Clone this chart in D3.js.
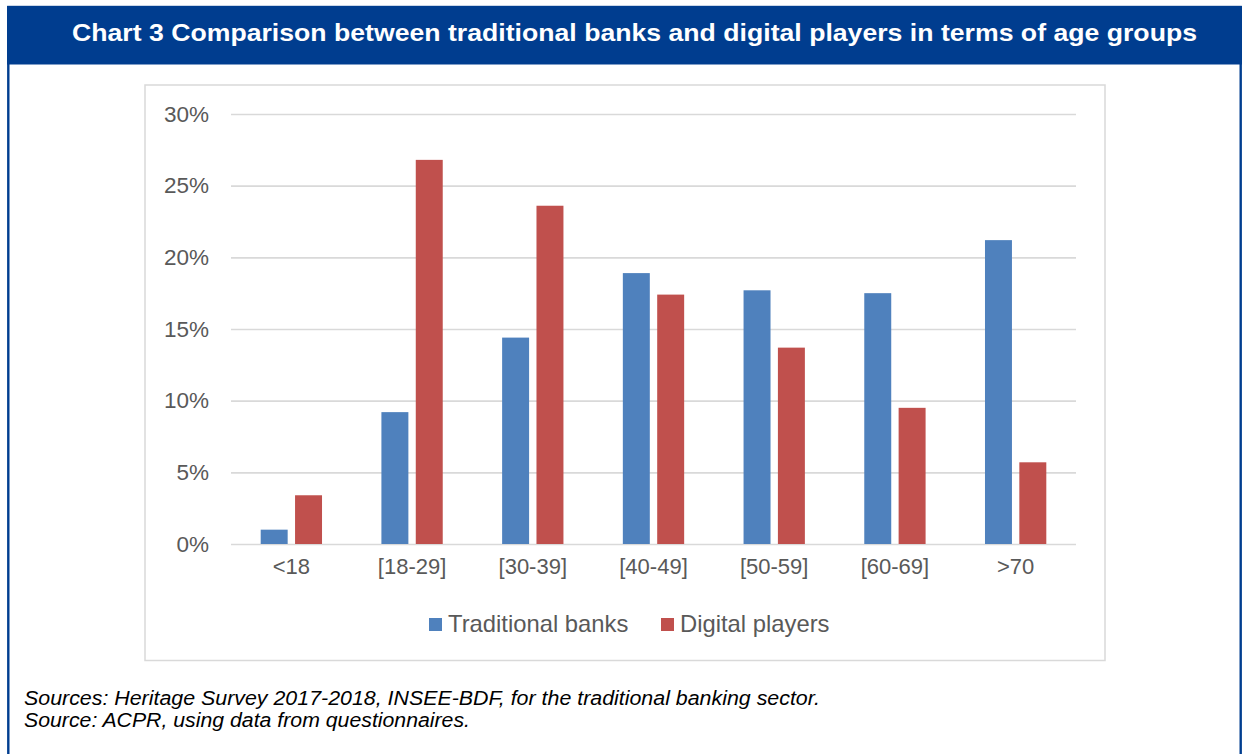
<!DOCTYPE html>
<html>
<head>
<meta charset="utf-8">
<script src="https://cdn.jsdelivr.net/npm/d3@7"></script>
<style>
  html, body { margin: 0; padding: 0; background: #fff; }
  svg { display: block; font-family: "Liberation Sans", Arial, sans-serif; }
</style>
</head>
<body>
<svg id="chart" width="1246" height="754"></svg>
<script>
// Age groups and share of customers in each group
const categories = ["<18", "[18-29]", "[30-39]", "[40-49]", "[50-59]", "[60-69]", ">70"];
const traditionalBanks = [0.010, 0.092, 0.144, 0.189, 0.177, 0.175, 0.212];
const digitalPlayers   = [0.034, 0.268, 0.236, 0.174, 0.137, 0.095, 0.057];
const seriesNames = ["Traditional banks", "Digital players"];
const seriesColors = ["#4F81BD", "#C0504D"];
const yTicks = [0, 0.05, 0.10, 0.15, 0.20, 0.25, 0.30];

const titleText = "Chart 3 Comparison between traditional banks and digital players in terms of age groups";
const sourceLines = [
  "Sources: Heritage Survey 2017-2018, INSEE-BDF, for the traditional banking sector.",
  "Source: ACPR, using data from questionnaires."
];

const svg = d3.select("#chart");
const navy = "#003d8f";
const textGrey = "#595959";
const gridGrey = "#d9d9d9";

// Outer frame and title band
svg.append("rect")
  .attr("x", 8.3).attr("y", 7).attr("width", 1232.4).attr("height", 800)
  .attr("fill", "none").attr("stroke", navy).attr("stroke-width", 2.4);
svg.append("rect")
  .attr("x", 7).attr("y", 6).attr("width", 1235).attr("height", 58.5)
  .attr("fill", navy);
svg.append("text")
  .attr("x", 72).attr("y", 41)
  .attr("textLength", 1125).attr("lengthAdjust", "spacingAndGlyphs")
  .attr("fill", "#fff").attr("font-weight", "bold").attr("font-size", 24.5)
  .text(titleText);

// Chart area border
svg.append("rect")
  .attr("x", 145).attr("y", 85).attr("width", 960).attr("height", 575.5)
  .attr("fill", "#fff").attr("stroke", gridGrey).attr("stroke-width", 1.5);

// Scales
const plot = { left: 231, right: 1076, top: 114, bottom: 544 };
const x0 = d3.scaleBand().domain(categories)
  .range([plot.left, plot.right]).paddingInner(0.492).paddingOuter(0.246);
const x1 = d3.scaleBand().domain(seriesNames)
  .range([0, x0.bandwidth()]).paddingInner(0.215).paddingOuter(0);
const y = d3.scaleLinear().domain([0, 0.30]).range([plot.bottom, plot.top]);

// Y axis with gridlines
const yAxis = svg.append("g")
  .attr("transform", `translate(${plot.left},0)`)
  .call(d3.axisLeft(y).tickValues(yTicks).tickFormat(d3.format(".0%"))
    .tickSize(-(plot.right - plot.left)).tickPadding(22));
yAxis.select(".domain").remove();
yAxis.selectAll(".tick line").attr("stroke", gridGrey).attr("stroke-width", 1.6);
yAxis.selectAll(".tick text")
  .attr("fill", textGrey).attr("font-size", 22.5)
  .attr("font-family", "Liberation Sans, Arial, sans-serif");

// X axis labels
const xAxis = svg.append("g")
  .attr("transform", `translate(0,${plot.bottom})`)
  .call(d3.axisBottom(x0).tickSize(0).tickPadding(14));
xAxis.select(".domain").remove();
xAxis.selectAll(".tick text")
  .attr("fill", textGrey).attr("font-size", 22)
  .attr("font-family", "Liberation Sans, Arial, sans-serif");

// Bars
const rows = categories.map((c, i) => ({
  category: c,
  values: [traditionalBanks[i], digitalPlayers[i]]
}));
const groups = svg.append("g").selectAll("g")
  .data(rows).join("g")
  .attr("transform", d => `translate(${x0(d.category)},0)`);
groups.selectAll("rect")
  .data(d => d.values.map((v, k) => ({ key: seriesNames[k], value: v, k })))
  .join("rect")
  .attr("x", d => x1(d.key))
  .attr("y", d => y(d.value))
  .attr("width", x1.bandwidth())
  .attr("height", d => y(0) - y(d.value))
  .attr("fill", d => seriesColors[d.k]);

// Legend
const legendX = [429, 661];
const legend = svg.append("g");
seriesNames.forEach((name, k) => {
  legend.append("rect")
    .attr("x", legendX[k]).attr("y", 618).attr("width", 13).attr("height", 13)
    .attr("fill", seriesColors[k]);
  legend.append("text")
    .attr("x", legendX[k] + 19).attr("y", 632)
    .attr("fill", textGrey).attr("font-size", 23.8)
    .text(name);
});

// Source notes
const sourceWidths = [796, 446];
sourceLines.forEach((line, i) => {
  svg.append("text")
    .attr("x", 24).attr("y", 705 + i * 22)
    .attr("textLength", sourceWidths[i]).attr("lengthAdjust", "spacingAndGlyphs")
    .attr("font-style", "italic").attr("font-size", 20.5).attr("fill", "#000")
    .text(line);
});
</script>
</body>
</html>
